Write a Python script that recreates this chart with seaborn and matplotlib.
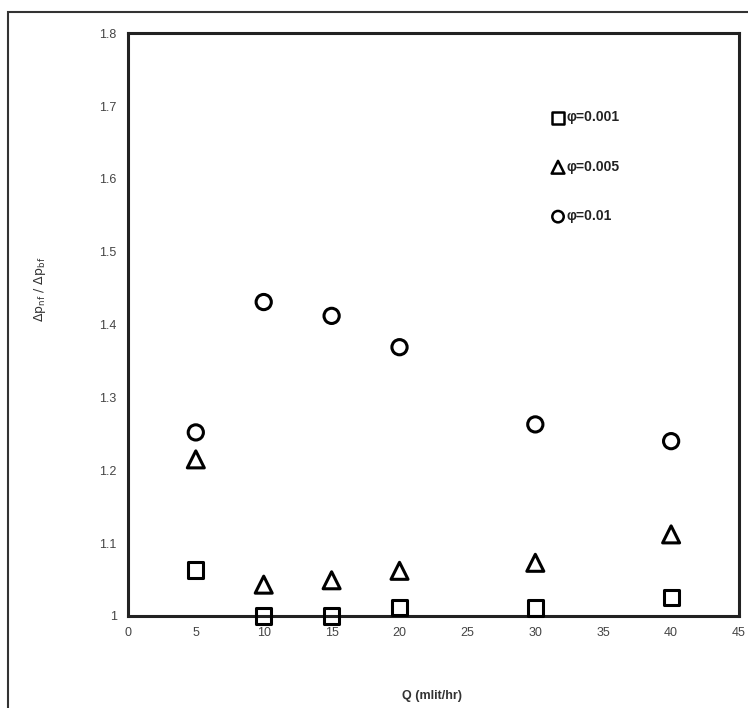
import matplotlib
matplotlib.use("Agg")
import matplotlib.pyplot as plt
import matplotlib.ticker as mticker
from matplotlib.patches import Rectangle
import seaborn as sns
import pandas as pd

# débit Q (mlit/hr)
debits = [5, 10, 15, 20, 30, 40]

# rapport des pertes de charge pour chaque concentration
rapport_0001 = [1.063, 1.000, 1.000, 1.012, 1.011, 1.025]
rapport_0005 = [1.215, 1.043, 1.049, 1.062, 1.073, 1.112]
rapport_001 = [1.252, 1.431, 1.412, 1.369, 1.263, 1.240]

etiquettes = ["φ=0.001", "φ=0.005", "φ=0.01"]
marqueurs = ["s", "^", "o"]
tailles = [120, 150, 120]

x_ticks = [0, 5, 10, 15, 20, 25, 30, 35, 40, 45]
y_ticks = [1.0, 1.1, 1.2, 1.3, 1.4, 1.5, 1.6, 1.7, 1.8]

sns.set_theme(style="white")
plt.rcParams["font.family"] = ["Liberation Sans", "DejaVu Sans"]

fig = plt.figure(figsize=(7.48, 7.08), dpi=100)
ax = fig.add_axes([0.171, 0.130, 0.817, 0.823])

for serie, lab, mk, sz in zip([rapport_0001, rapport_0005, rapport_001], etiquettes, marqueurs, tailles):
    df = pd.DataFrame({"Q": debits, "r": serie})
    sns.scatterplot(data=df, x="Q", y="r", ax=ax, marker=mk, s=sz,
                    facecolor="none", edgecolor="black", linewidth=2.2,
                    label=lab, clip_on=False, zorder=3)

ax.set_xlim(0, 45)
ax.set_ylim(1.0, 1.8)
ax.set_xticks(x_ticks)
ax.set_yticks(y_ticks)
ax.yaxis.set_major_formatter(mticker.FormatStrFormatter("%g"))
ax.tick_params(axis="both", length=0, labelsize=9, labelcolor="#444444", pad=8)

for sp in ax.spines.values():
    sp.set_visible(True)
    sp.set_color("#222222")
    sp.set_linewidth(2.2)

ax.set_xlabel("Q (mlit/hr)", fontsize=9, color="#333333", fontweight="bold")
ax.set_ylabel(r"$\mathrm{\Delta p_{nf}\ /\ \Delta p_{bf}}$", fontsize=9, color="#333333")
ax.xaxis.set_label_coords(0.497, -0.127)
ax.yaxis.set_label_coords(-0.13, 0.56)

leg = ax.legend(loc="upper left", bbox_to_anchor=(0.672, 0.889), frameon=False,
                markerscale=0.75, handletextpad=0.1, handlelength=1.0,
                labelspacing=2.55, fontsize=10)
for t in leg.get_texts():
    t.set_fontweight("bold")
    t.set_color("#222222")
for h in leg.legend_handles:
    h.set_linewidth(1.8)

fig.patches.append(Rectangle((0.011, -0.02), 1.05, 1.003, transform=fig.transFigure,
                             fill=False, edgecolor="#333333", linewidth=1.5))

fig.savefig("out.png", dpi=100)
